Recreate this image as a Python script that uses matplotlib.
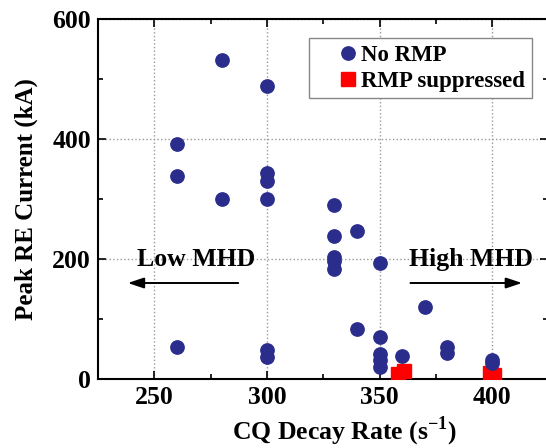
import matplotlib
matplotlib.use("Agg")
import matplotlib.pyplot as plt
from matplotlib.ticker import MultipleLocator

plt.rcParams['font.family'] = ['Liberation Serif', 'DejaVu Serif']
plt.rcParams['font.weight'] = 'bold'
plt.rcParams['mathtext.fontset'] = 'custom'
plt.rcParams['mathtext.rm'] = 'Liberation Serif:bold'
plt.rcParams['mathtext.bf'] = 'Liberation Serif:bold'

# no RMP shots
no_rmp_rate = [280, 300, 260, 260, 280, 300, 300, 300, 330, 330, 340, 330, 330, 330,
               350, 370, 340, 350, 260, 300, 300, 350, 350, 350, 360, 380, 380, 400, 400]
no_rmp_current = [532, 488, 391, 338, 300, 343, 330, 300, 290, 239, 247, 204, 196, 183,
                  194, 120, 84, 70, 54, 48, 36, 41, 32, 20, 39, 54, 44, 32, 26]

# RMP suppressed shots
rmp_rate = [358, 361, 399, 401]
rmp_current = [8, 14, 10, 6]

navy = '#2b2d8c'

fig = plt.figure(figsize=(5.46, 4.48), dpi=100)
ax = fig.add_axes([0.1795, 0.154, 0.825, 0.8036])

ax.plot(rmp_rate, rmp_current, 's', color='#ff0000', markersize=10,
        label='RMP suppressed', zorder=3)
ax.plot(no_rmp_rate, no_rmp_current, 'o', color=navy, markersize=9.6,
        label='No RMP', zorder=4)

ax.set_xlim(225, 425)
ax.set_ylim(0, 600)
ax.xaxis.set_major_locator(MultipleLocator(50))
ax.xaxis.set_minor_locator(MultipleLocator(25))
ax.yaxis.set_major_locator(MultipleLocator(200))
ax.yaxis.set_minor_locator(MultipleLocator(100))
ax.tick_params(which='both', direction='in', top=True, right=True, width=1.2)
ax.tick_params(which='major', length=6, labelsize=18.5, pad=5)
ax.tick_params(which='minor', length=3.5)
for lab in ax.get_xticklabels() + ax.get_yticklabels():
    lab.set_fontweight('bold')
for sp in ax.spines.values():
    sp.set_linewidth(1.5)

ax.grid(True, which='major', linestyle=':', color='#999999', linewidth=1)
ax.set_axisbelow(True)

ax.set_xlabel(r'CQ Decay Rate (s$^{\mathbf{-1}}$)', fontsize=18.5, fontweight='bold')
ax.xaxis.set_label_coords(0.546, -0.100)
ax.set_ylabel('Peak RE Current (kA)', fontsize=18, fontweight='bold', labelpad=10)

handles, labels = ax.get_legend_handles_labels()
leg = ax.legend(handles[::-1], labels[::-1], loc='upper right',
                bbox_to_anchor=(0.9636, 0.947), borderaxespad=0, fancybox=False,
                edgecolor='#888888', framealpha=1, prop={'size': 16.5, 'weight': 'bold'},
                handlelength=2.8, handletextpad=-0.8, borderpad=0.3, labelspacing=0.2)
leg.get_frame().set_linewidth(1.0)

ax.text(268.5, 200, 'Low MHD', fontsize=18.5, fontweight='bold', ha='center', va='center')
ax.text(390.5, 200, 'High MHD', fontsize=18.5, fontweight='bold', ha='center', va='center')
ax.annotate('', xy=(237, 160), xytext=(288.5, 160),
            arrowprops=dict(arrowstyle='-|>,head_length=0.6,head_width=0.2', lw=1.4,
                            color='black', mutation_scale=16))
ax.annotate('', xy=(414.5, 160), xytext=(362.5, 160),
            arrowprops=dict(arrowstyle='-|>,head_length=0.6,head_width=0.2', lw=1.4,
                            color='black', mutation_scale=16))

fig.savefig('out.png', dpi=100)
